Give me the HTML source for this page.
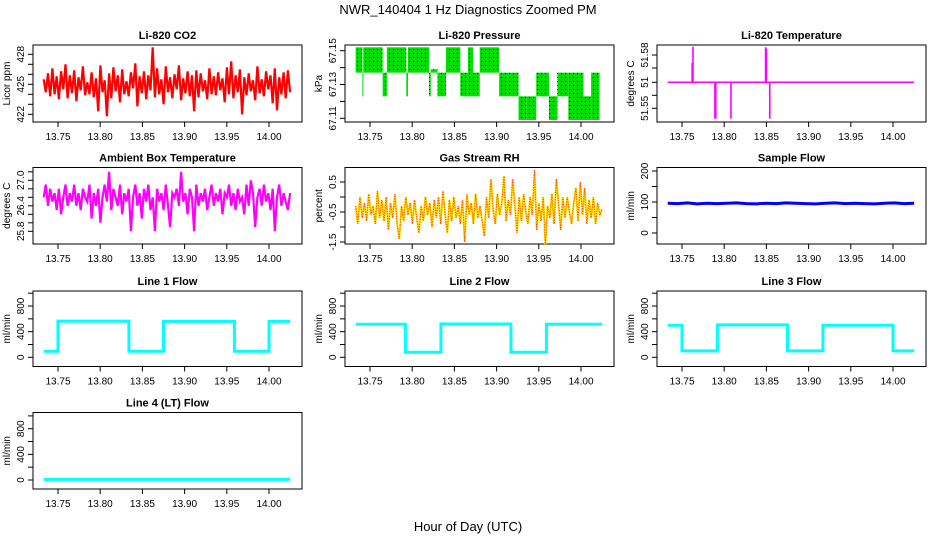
<!DOCTYPE html>
<html><head><meta charset="utf-8"><style>
body{margin:0;background:#fff}
svg{display:block;font-family:"Liberation Sans",Arial,sans-serif}
</style></head><body>
<svg id="c" width="936" height="540" viewBox="0 0 936 540">
<defs><pattern id="dots" width="4" height="4" patternUnits="userSpaceOnUse"><rect x="1" y="1" width="1" height="1" fill="#000"/></pattern></defs>
<text x="468" y="14" text-anchor="middle" font-size="13">NWR_140404  1 Hz Diagnostics Zoomed PM</text>
<text x="468" y="531" text-anchor="middle" font-size="13">Hour of Day (UTC)</text>
</svg>
<script>
const xTicks=[13.75,13.80,13.85,13.90,13.95,14.00];
const xTickLabels=["13.75","13.80","13.85","13.90","13.95","14.00"];
const tStart=13.733, tEnd=14.025;
const co2=[425.5,424.2,426.1,423.8,426.6,424.0,425.8,423.5,426.3,424.5,427.0,423.6,425.9,424.1,426.4,423.3,425.7,424.4,426.8,423.9,
425.2,424.0,426.2,423.7,425.6,422.3,426.9,424.2,425.4,421.8,426.1,423.6,426.7,424.3,425.9,423.2,426.5,424.0,425.3,423.8,
426.2,424.6,427.1,422.8,425.8,424.1,426.3,423.5,425.9,424.4,428.7,423.7,426.6,424.0,425.5,423.0,426.8,424.2,425.7,423.6,
426.0,424.5,426.9,423.4,425.6,424.1,426.3,423.8,425.9,422.3,426.4,423.7,426.1,424.3,425.4,423.5,426.6,424.0,425.8,423.9,
426.2,424.4,425.6,423.2,426.7,424.0,427.3,423.6,425.9,424.2,426.5,422.0,425.7,423.9,426.1,424.3,425.4,423.4,426.8,424.1,
425.5,423.8,426.3,424.5,425.9,423.1,426.6,422.4,425.7,424.0,426.2,423.6,426.4,424.2];
const ambient=[26.6,26.9,26.4,26.8,26.5,26.7,26.3,26.8,26.2,26.6,26.9,26.4,26.7,26.5,26.9,26.4,26.7,26.3,26.8,26.6,
26.5,26.9,26.1,26.7,26.4,26.8,26.0,26.6,26.9,26.5,27.2,26.3,26.8,26.6,26.4,26.9,26.2,26.7,26.5,26.8,
25.8,26.6,26.9,26.4,26.7,26.1,26.8,26.5,26.9,26.3,26.6,25.8,26.8,26.5,26.7,26.3,26.9,26.4,25.9,26.7,
26.6,26.8,26.4,27.2,26.5,26.7,26.2,26.8,26.6,25.8,26.9,26.4,26.7,26.5,26.8,26.3,26.6,26.9,26.4,26.7,
26.5,26.8,26.2,26.7,26.6,26.9,26.4,26.7,26.3,26.8,26.5,26.6,26.2,26.9,26.4,27.0,26.7,25.9,26.6,26.8,
26.4,26.9,26.5,26.7,26.3,26.8,25.8,26.6,26.9,26.4,26.7,26.5,26.3,26.7];
const rh=[-0.3,-0.9,0.0,-0.7,-0.2,-0.8,0.1,-0.6,-0.3,-0.9,0.2,-0.7,-0.1,-0.8,0.0,-1.1,-0.2,-0.7,0.1,-0.9,
-1.4,-0.3,-0.8,0.0,-0.6,-0.2,-0.9,-0.1,-0.7,-1.2,-0.3,-0.8,0.0,-0.6,-0.2,-1.0,-0.1,-0.7,0.0,-0.9,
0.2,-0.6,-1.2,-0.1,-0.8,0.0,-0.7,-0.3,-0.9,-0.1,-1.5,0.1,-0.6,-0.2,-0.9,0.1,-0.7,-0.3,-0.8,-1.3,
0.0,-0.7,0.6,-0.4,-0.9,0.1,-0.6,-0.2,0.7,-0.8,-0.1,-0.6,0.6,-0.3,-1.2,0.0,-0.8,0.1,-0.5,-0.9,
0.0,-0.6,0.9,-1.1,-0.2,-0.8,0.0,-1.6,-0.3,-0.7,0.1,-0.9,0.6,-0.2,-1.1,0.0,-0.7,0.0,-0.5,-0.9,
-0.2,0.3,-0.8,0.5,-0.6,0.3,-0.9,-0.1,-0.7,0.0,-0.9,-0.2,-0.6,-0.4];
const sampleFlow=[96,95,97,94,96,95,96,97,95,94,96,95,97,96,95,94,96,97,95,96,95,94,96,97,95,96];
const pStart=[13.733,13.741,13.742,13.765,13.770,13.793,13.795,13.820,13.822,13.830,13.840,13.857,13.866,13.872,13.880,13.903,13.926,13.935,13.947,13.962,13.972,13.985,14.003,14.012];
const pEnd=[13.741,13.742,13.765,13.770,13.793,13.795,13.820,13.822,13.830,13.840,13.857,13.866,13.872,13.880,13.903,13.926,13.935,13.947,13.962,13.972,13.985,14.003,14.012,14.022];
const pHi=[67.152,67.137,67.152,67.137,67.152,67.137,67.152,67.137,67.139,67.137,67.152,67.137,67.152,67.137,67.152,67.137,67.123,67.123,67.137,67.123,67.137,67.137,67.123,67.137];
const pLo=[67.137,67.123,67.137,67.123,67.137,67.123,67.137,67.123,67.137,67.123,67.137,67.123,67.123,67.123,67.137,67.123,67.109,67.109,67.123,67.109,67.123,67.109,67.109,67.109];
const tempBase=51.565;
const spikeT=[13.762,13.763,13.789,13.790,13.808,13.849,13.850,13.854];
const spikeV=[51.5725,51.5787,51.551,51.551,51.551,51.5785,51.578,51.551];
const l1Times=[13.733,13.750,13.834,13.875,13.959,14.000,14.025];
const l1Vals=[95,565,95,560,95,560];
const l2Times=[13.733,13.792,13.834,13.917,13.959,14.025];
const l2Vals=[515,80,520,80,515];
const l3Times=[13.733,13.750,13.792,13.875,13.917,14.000,14.025];
const l3Vals=[500,100,505,100,500,100];
const l4Times=[13.733,14.025];
const l4Vals=[10];

const svg=document.getElementById('c');
const NS='http://www.w3.org/2000/svg';
function mk(tag,attrs,parent){const e=document.createElementNS(NS,tag);for(const k in attrs)e.setAttribute(k,attrs[k]);(parent||svg).appendChild(e);return e;}
const rowTop=[45,167.5,291,412.5], rowBot=[122,244,366.5,489];
function xs(col){return t=>33+col*312+25+(t-13.75)/0.25*211;}

function panel(col,row,title,ytitle,yfn,ticks,labels,name){
  const g=mk('g',{});
  
  
  const x0=33+col*312,x1=302+col*312,y0=rowTop[row],y1=rowBot[row];
  const X=xs(col);
  const b=mk('rect',{x:x0,y:y0,width:x1-x0,height:y1-y0,fill:'none',stroke:'#000','stroke-width':1},g);
  
  
  const tt=mk('text',{x:(x0+x1)/2,y:y0-6,'text-anchor':'middle','font-size':11,'font-weight':'bold'},g);
  tt.textContent=title;
  
  
  const yt=mk('text',{transform:`translate(${x0-23},${(y0+y1)/2}) rotate(-90)`,'text-anchor':'middle','font-size':10},g);
  yt.textContent=ytitle;
  
  
  xTicks.forEach((v,i)=>{
    const x=X(v);
    mk('line',{x1:x,x2:x,y1:y1,y2:y1+5,stroke:'#000'},g);
    const l=mk('text',{x:x,y:y1+18,'text-anchor':'middle','font-size':10},g);
    l.textContent=xTickLabels[i];
    
    
  });
  ticks.forEach((v,i)=>{
    const y=yfn(v);
    mk('line',{x1:x0-5,x2:x0,y1:y,y2:y,stroke:'#000'},g);
    if(labels[i]){
      const l=mk('text',{transform:`translate(${x0-9},${y}) rotate(-90)`,'text-anchor':'middle','font-size':10},g);
      l.textContent=labels[i];
      
      
    }
  });
  return {g,X};
}
function series(vals,X){const n=vals.length;return vals.map((v,i)=>[X(tStart+(tEnd-tStart)*i/(n-1)),v]);}
function poly(pts,yfn,attrs,g,name){
  const p=mk('polyline',Object.assign({points:pts.map(q=>q[0].toFixed(1)+','+yfn(q[1]).toFixed(1)).join(' '),fill:'none'},attrs),g);
  
  
  return p;
}
function stepPts(times,vals,X){const pts=[];vals.forEach((v,i)=>{pts.push([X(times[i]),v]);pts.push([X(times[i+1]),v]);});return pts;}

// CO2
{const y=v=>114.3-(v-422)*10;
 const P=panel(0,0,'Li-820 CO2','Licor ppm',y,[422,423,424,425,426,427,428],['422','','','425','','','428'],'co2');
 poly(series(co2,P.X),y,{stroke:'#ff0000','stroke-width':2.2},P.g,'co2-line');}
// Pressure
{const y=v=>118.3-(v-67.11)*1690;
 const P=panel(1,0,'Li-820 Pressure','kPa',y,[67.11,67.12,67.13,67.14,67.15],['67.11','','67.13','','67.15'],'pressure');
 pStart.forEach((s,i)=>{
   const r=mk('rect',{x:P.X(s),y:y(pHi[i]),width:Math.max(1,P.X(pEnd[i])-P.X(s)),height:y(pLo[i])-y(pHi[i]),fill:'#00dd00'},P.g);
   
   
   const d=mk('rect',{x:P.X(s),y:y(pHi[i]),width:Math.max(1,P.X(pEnd[i])-P.X(s)),height:y(pLo[i])-y(pHi[i]),fill:'url(#dots)'},P.g);
   
   
 });}
// Temperature
{const y=v=>82.3-(v-tempBase)*2600;
 const P=panel(2,0,'Li-820 Temperature','degrees C',y,[51.5755,51.5705,51.565,51.560,51.555],['51.58','','51','','51.55'],'li820-temp');
 poly([[P.X(tStart),tempBase],[P.X(tEnd),tempBase]],y,{stroke:'#ff00ff','stroke-width':1.5},P.g,'temp-baseline');
 spikeT.forEach((t,i)=>{
   const l=mk('line',{x1:P.X(t),x2:P.X(t),y1:y(tempBase),y2:y(spikeV[i]),stroke:'#ff00ff','stroke-width':1.6},P.g);
   
   
 });}
// Ambient
{const y=v=>180.3-(v-27.0)*42.5;
 const P=panel(0,1,'Ambient Box Temperature','degrees C',y,[25.8,26.0,26.2,26.4,26.6,26.8,27.0,27.2],['25.8','','','26.4','','','27.0',''],'ambient');
 poly(series(ambient,P.X),y,{stroke:'#ff00ff','stroke-width':2.2},P.g,'ambient-line');}
// RH
{const y=v=>182-(v-0.5)*30;
 const P=panel(1,1,'Gas Stream RH','percent',y,[-1.5,-1,-0.5,0,0.5],['-1.5','','-0.5','','0.5'],'rh');
 const pts=series(rh,P.X);
 poly(pts,y,{stroke:'#ffdd00','stroke-width':2},P.g,'rh-line');
 poly(pts,y,{stroke:'#ff3300','stroke-width':1,'stroke-dasharray':'1,1.5'},P.g,'rh-points');}
// Sample flow
{const y=v=>233-v*0.31;
 const P=panel(2,1,'Sample Flow','ml/min',y,[0,50,100,150,200],['0','','100','','200'],'sample-flow');
 poly(series(sampleFlow,P.X),y,{stroke:'#0000ff','stroke-width':3},P.g,'sample-flow-line');}
// Line flows
const fTicks=[0,200,400,600,800,1000], fLabels=['0','','400','','800',''];
{const y=v=>357.3-v*0.0641;
 const P=panel(0,2,'Line 1 Flow','ml/min',y,fTicks,fLabels,'line1');
 poly(stepPts(l1Times,l1Vals,P.X),y,{stroke:'#00ffff','stroke-width':3},P.g,'line1-flow');}
{const y=v=>357.3-v*0.0641;
 const P=panel(1,2,'Line 2 Flow','ml/min',y,fTicks,fLabels,'line2');
 poly(stepPts(l2Times,l2Vals,P.X),y,{stroke:'#00ffff','stroke-width':3},P.g,'line2-flow');}
{const y=v=>357.3-v*0.0641;
 const P=panel(2,2,'Line 3 Flow','ml/min',y,fTicks,fLabels,'line3');
 poly(stepPts(l3Times,l3Vals,P.X),y,{stroke:'#00ffff','stroke-width':3},P.g,'line3-flow');}
{const y=v=>480-v*0.0641;
 const P=panel(0,3,'Line 4 (LT) Flow','ml/min',y,fTicks,fLabels,'line4');
 poly(stepPts(l4Times,l4Vals,P.X),y,{stroke:'#00ffff','stroke-width':3},P.g,'line4-flow');}
</script>
</body></html>
